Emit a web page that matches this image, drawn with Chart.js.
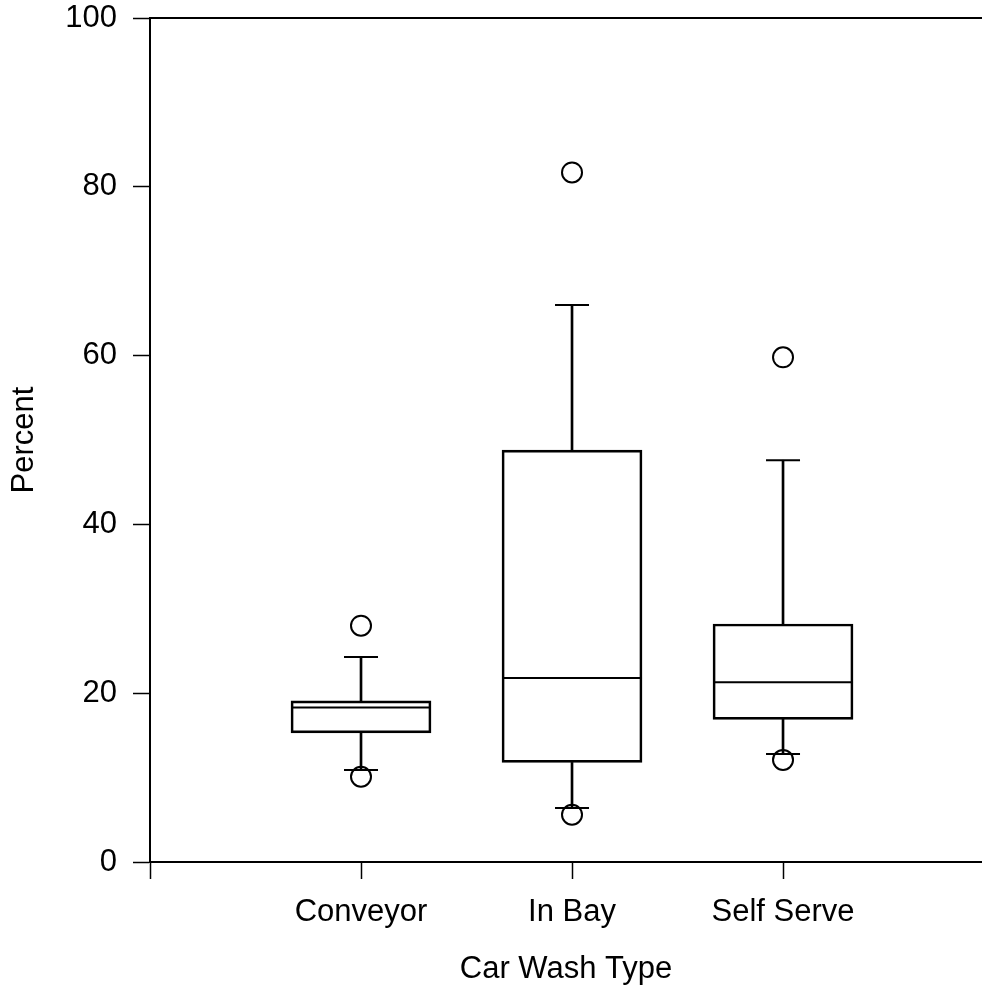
<!DOCTYPE html>
<html>
<head>
<meta charset="utf-8">
<script src="https://cdn.jsdelivr.net/npm/chart.js@4.4.1/dist/chart.umd.min.js"></script>
<style>
  html, body { margin: 0; padding: 0; background: #fff; }
  #wrap { width: 982px; height: 988px; position: relative; }
</style>
</head>
<body>
<div id="wrap"><canvas id="c"></canvas></div>
<script>
// ---- data ----
const categories  = ['Conveyor', 'In Bay', 'Self Serve'];
const q1          = [15.3, 11.8, 16.9];
const median      = [18.3, 21.8, 21.3];
const q3          = [19.1, 48.8, 28.2];
const whiskerLow  = [10.9, 6.4, 12.8];
const whiskerHigh = [24.3, 66.0, 47.6];
const outliers    = [[10.1, 28.0], [5.6, 81.7], [12.1, 59.8]];
const yTicks      = [0, 20, 40, 60, 80, 100];
const xTickValues = [0, 1, 2, 3];

const pos = categories.map((_, i) => i + 1);

Chart.defaults.font.family = "'Liberation Sans', Arial, Helvetica, sans-serif";
Chart.defaults.font.size = 31;
Chart.defaults.color = '#000';

const frameTop = {
  id: 'frameTop',
  afterDraw(chart) {
    const { ctx, chartArea } = chart;
    ctx.save();
    ctx.strokeStyle = '#000';
    ctx.lineWidth = 2;
    ctx.beginPath();
    ctx.moveTo(chartArea.left, chartArea.top);
    ctx.lineTo(chart.width, chartArea.top);
    ctx.stroke();
    ctx.restore();
  }
};

const boxes = {
  type: 'bar',
  data: pos.map((x, i) => ({ x, y: [q1[i], q3[i]] })),
  backgroundColor: 'rgba(255,255,255,0)',
  borderColor: '#000',
  borderWidth: 2,
  borderSkipped: false,
  barThickness: 140,
  grouped: false,
  order: 3
};
const whiskUp = {
  type: 'bar',
  data: pos.map((x, i) => ({ x, y: [q3[i], whiskerHigh[i]] })),
  backgroundColor: '#000',
  borderWidth: 0,
  barThickness: 2,
  grouped: false,
  order: 4
};
const whiskDown = {
  type: 'bar',
  data: pos.map((x, i) => ({ x, y: [whiskerLow[i], q1[i]] })),
  backgroundColor: '#000',
  borderWidth: 0,
  barThickness: 2,
  grouped: false,
  order: 4
};
const medians = {
  type: 'scatter',
  data: pos.map((x, i) => ({ x, y: median[i] })),
  pointStyle: 'line',
  radius: 70,
  hoverRadius: 70,
  borderColor: '#000',
  borderWidth: 2,
  order: 2
};
const caps = {
  type: 'scatter',
  data: pos.flatMap((x, i) => [{ x, y: whiskerLow[i] }, { x, y: whiskerHigh[i] }]),
  pointStyle: 'line',
  radius: 17,
  hoverRadius: 17,
  borderColor: '#000',
  borderWidth: 2,
  order: 2
};
const outPts = {
  type: 'scatter',
  data: pos.flatMap((x, i) => outliers[i].map(v => ({ x, y: v }))),
  pointStyle: 'circle',
  radius: 10,
  hoverRadius: 10,
  borderColor: '#000',
  backgroundColor: 'rgba(255,255,255,0)',
  borderWidth: 2,
  order: 1
};

new Chart(document.getElementById('c'), {
  type: 'bar',
  data: { datasets: [outPts, medians, caps, boxes, whiskUp, whiskDown] },
  plugins: [frameTop],
  options: {
    responsive: true,
    maintainAspectRatio: false,
    animation: false,
    devicePixelRatio: 1,
    layout: { padding: 0, autoPadding: false },
    plugins: { legend: { display: false }, tooltip: { enabled: false } },
    scales: {
      x: {
        type: 'linear',
        offset: false,
        min: 0,
        max: 3.943,
        afterFit(s) { s.height = 126; s.paddingLeft = 0; s.paddingRight = 0; },
        afterBuildTicks(s) { s.ticks = xTickValues.map(v => ({ value: v })); },
        ticks: {
          padding: 15,
          maxRotation: 0,
          autoSkip: false,
          callback: (v) => categories[v - 1] || ''
        },
        grid: { offset: false, drawOnChartArea: false, drawTicks: true, tickLength: 17, tickWidth: 1.5, tickColor: '#000' },
        border: { display: true, color: '#000', width: 2 },
        title: { display: true, text: 'Car Wash Type', padding: { top: 0, bottom: 0 } }
      },
      y: {
        type: 'linear',
        min: 0,
        max: 100,
        afterFit(s) { s.width = 150; s.paddingTop = 18; s.paddingBottom = 0; },
        afterBuildTicks(s) { s.ticks = yTicks.map(v => ({ value: v })); },
        ticks: { padding: 16 },
        grid: { drawOnChartArea: false, drawTicks: true, tickLength: 17, tickWidth: 1.5, tickColor: '#000' },
        border: { display: true, color: '#000', width: 2 },
        title: { display: true, text: 'Percent', padding: { top: 6, bottom: 0 } }
      }
    }
  }
});
</script>
</body>
</html>
